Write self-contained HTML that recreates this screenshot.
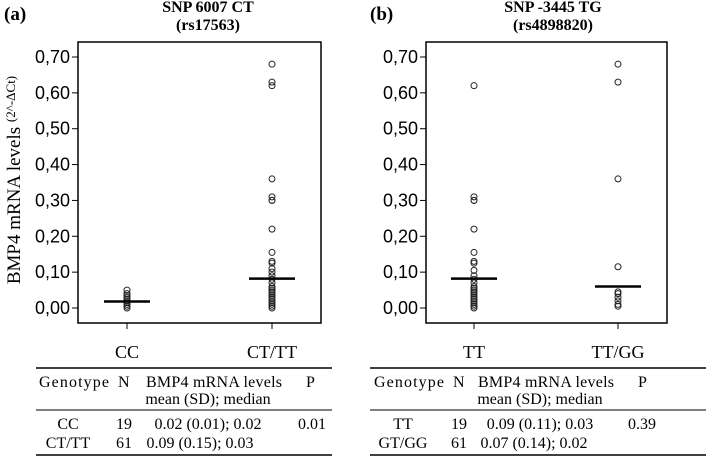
<!DOCTYPE html>
<html><head><meta charset="utf-8"><style>
body{margin:0;background:#fff;width:708px;height:460px;overflow:hidden}
text{font-family:"Liberation Sans",sans-serif}
.serif text, text.serif{font-family:"Liberation Serif",serif}
</style></head><body>
<svg id="chart" width="708" height="460" viewBox="0 0 708 460" style="position:absolute;left:0;top:0">
<g id="g"></g>
</svg>
<script>
const ticks=[0,0.1,0.2,0.3,0.4,0.5,0.6,0.7];
const tickLabels=["0,00","0,10","0,20","0,30","0,40","0,50","0,60","0,70"];
const catsA=["CC","CT/TT"];
const catsB=["TT","TT/GG"];
const ptsA_CC=[0.05,0.04,0.035,0.03,0.025,0.02,0.015,0.01,0.005,0.0];
const ptsA_CT=[0.68,0.63,0.62,0.36,0.31,0.30,0.30,0.22,0.155,0.13,0.125,0.11,0.1,0.09,0.08,0.07,0.06,0.055,0.05,0.045,0.04,0.035,0.03,0.025,0.02,0.015,0.01,0.005,0.0];
const ptsB_TT=[0.62,0.31,0.30,0.30,0.22,0.155,0.13,0.125,0.105,0.09,0.08,0.07,0.06,0.055,0.05,0.045,0.04,0.035,0.03,0.025,0.02,0.015,0.01,0.005,0.0];
const ptsB_GG=[0.68,0.63,0.36,0.115,0.045,0.04,0.03,0.02,0.01,0.005];
const meansA=[0.018,0.082];
const meansB=[0.082,0.06];
const NS="http://www.w3.org/2000/svg";
const g=document.getElementById('g');
function el(t,a,p){const e=document.createElementNS(NS,t);for(const k in a)e.setAttribute(k,a[k]);(p||g).appendChild(e);return e;}
function y(v){return 308-v*(251/0.7);}
function panel(x0,x1,cx,cats,pts,means,name){
  const grp=el('g',{});
  
  
  const r=el('rect',{x:x0,y:42,width:x1-x0,height:281,fill:'none',stroke:'#000','stroke-width':1.5},grp);
  
  ticks.forEach((t,i)=>{
    el('line',{x1:x0-6,x2:x0,y1:y(t),y2:y(t),stroke:'#000'},grp);
    const tx=el('text',{x:x0-8,y:y(t)+6,'text-anchor':'end','font-size':18},grp);
    tx.textContent=tickLabels[i];
    
  });
  cats.forEach((c,i)=>{
    el('line',{x1:cx[i],x2:cx[i],y1:323,y2:329,stroke:'#000'},grp);
    const tx=el('text',{x:cx[i],y:358,'text-anchor':'middle','font-size':18,class:'serif'},grp);
    tx.textContent=c;
    
    pts[i].forEach(v=>{
      const ci=el('circle',{cx:cx[i],cy:y(v),r:3,fill:'none',stroke:'#222','stroke-width':1},grp);
      
    });
    const m=el('line',{x1:cx[i]-23,x2:cx[i]+23,y1:y(means[i]),y2:y(means[i]),stroke:'#000','stroke-width':2.5},grp);
    
  });
}
panel(78,321,[127,272],catsA,[ptsA_CC,ptsA_CT],meansA,'panel-a');
panel(426,667,[474,618],catsB,[ptsB_TT,ptsB_GG],meansB,'panel-b');
</script>
<svg width="708" height="460" style="position:absolute;left:0;top:0">
<g class="serif" font-weight="bold" font-size="16">
<text x="4" y="20" font-size="19">(a)</text>
<text x="208" y="12" text-anchor="middle">SNP 6007 CT</text>
<text x="208" y="30" text-anchor="middle">(rs17563)</text>
<text x="370" y="20" font-size="19">(b)</text>
<text x="553" y="12" text-anchor="middle">SNP -3445 TG</text>
<text x="553" y="30" text-anchor="middle">(rs4898820)</text>
</g>
<text class="serif" transform="translate(20,180) rotate(-90)" text-anchor="middle" font-size="19">BMP4 mRNA levels <tspan font-size="13" dy="-5">(2^-ΔCt)</tspan></text>
<g class="serif" font-size="16">
<line x1="36" x2="332" y1="368" y2="368" stroke="#000" stroke-width="1.5"/>
<text x="39" y="387" textLength="70">Genotype</text><text x="118" y="387">N</text><text x="146" y="387" textLength="136">BMP4 mRNA levels</text><text x="306" y="387">P</text>
<text x="208" y="404" text-anchor="middle">mean (SD); median</text>
<line x1="36" x2="332" y1="410" y2="410" stroke="#000"/>
<text x="68" y="429" text-anchor="middle">CC</text><text x="124" y="429" text-anchor="middle">19</text><text x="208" y="429" text-anchor="middle">0.02 (0.01); 0.02</text><text x="312" y="429" text-anchor="middle">0.01</text>
<text x="68" y="448" text-anchor="middle">CT/TT</text><text x="124" y="448" text-anchor="middle">61</text><text x="200" y="448" text-anchor="middle">0.09 (0.15); 0.03</text>
<line x1="36" x2="332" y1="455" y2="455" stroke="#000" stroke-width="1.5"/>
</g>
<g class="serif" font-size="16">
<line x1="370" x2="706" y1="368" y2="368" stroke="#000" stroke-width="1.5"/>
<text x="374" y="387" textLength="70">Genotype</text><text x="453" y="387">N</text><text x="478" y="387" textLength="136">BMP4 mRNA levels</text><text x="638" y="387">P</text>
<text x="540" y="404" text-anchor="middle">mean (SD); median</text>
<line x1="370" x2="706" y1="410" y2="410" stroke="#000"/>
<text x="403" y="429" text-anchor="middle">TT</text><text x="459" y="429" text-anchor="middle">19</text><text x="540" y="429" text-anchor="middle">0.09 (0.11); 0.03</text><text x="642" y="429" text-anchor="middle">0.39</text>
<text x="403" y="448" text-anchor="middle">GT/GG</text><text x="459" y="448" text-anchor="middle">61</text><text x="534" y="448" text-anchor="middle">0.07 (0.14); 0.02</text>
<line x1="370" x2="706" y1="455" y2="455" stroke="#000" stroke-width="1.5"/>
</g>
</svg>
</body></html>
